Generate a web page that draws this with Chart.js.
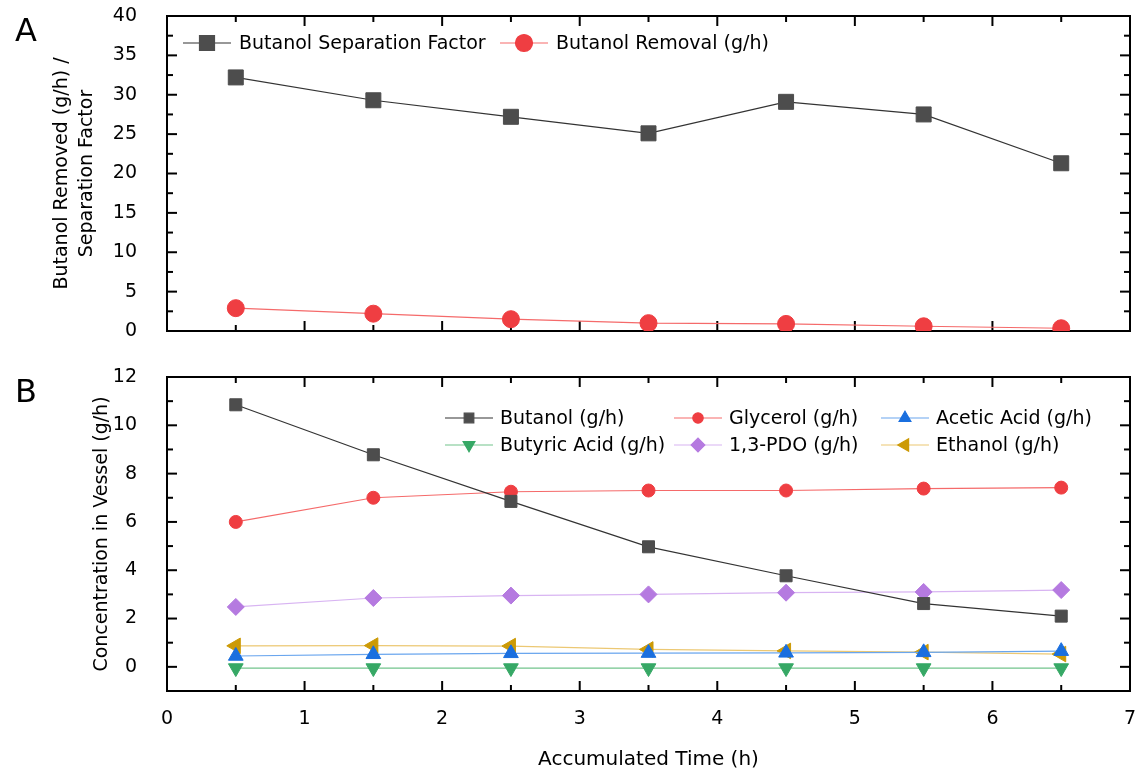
<!DOCTYPE html>
<html>
<head>
<meta charset="utf-8">
<script src="https://cdn.jsdelivr.net/npm/chart.js@4.4.1/dist/chart.umd.min.js"></script>
<style>
    body { margin: 0; background: #fff; }
    .wrap { position: relative; width: 1138px; height: 778px; }
    canvas { position: absolute; left: 0; top: 0; }
</style>
</head>
<body>
<div class="wrap">
    <canvas id="chartA" width="1138" height="778"></canvas>
    <canvas id="chartB" width="1138" height="778"></canvas>
</div>
<script>
// Data
const times = [0.5, 1.5, 2.5, 3.5, 4.5, 5.5, 6.5];
const sepFactor = [32.2, 29.3, 27.2, 25.1, 29.1, 27.5, 21.3];
const butanolRemoval = [2.9, 2.2, 1.5, 1.0, 0.9, 0.6, 0.35];

const butanol = [10.85, 8.78, 6.85, 4.97, 3.77, 2.62, 2.1];
const glycerol = [6.0, 7.0, 7.25, 7.3, 7.3, 7.38, 7.42];
const aceticAcid = [0.45, 0.52, 0.56, 0.57, 0.58, 0.6, 0.65];
const butyricAcid = [-0.05, -0.05, -0.05, -0.05, -0.05, -0.05, -0.05];
const pdo = [2.48, 2.85, 2.95, 3.0, 3.07, 3.1, 3.18];
const ethanol = [0.87, 0.88, 0.86, 0.72, 0.66, 0.61, 0.53];

const xTicks = [0, 1, 2, 3, 4, 5, 6, 7];
const yTicksA = [0, 5, 10, 15, 20, 25, 30, 35, 40];
const yTicksB = [0, 2, 4, 6, 8, 10, 12];

const FONT = 'DejaVu Sans';

function pts(values) {
    return values.map(function(v, i) { return { x: times[i], y: v }; });
}

function series(label, values, line, fill, style, radius, rotation) {
    return {
        label: label,
        data: pts(values),
        borderColor: line,
        borderWidth: 1.2,
        pointStyle: style,
        pointRadius: radius,
        pointHoverRadius: radius,
        pointRotation: rotation || 0,
        pointBackgroundColor: fill,
        pointBorderColor: fill,
        pointBorderWidth: 1,
        tension: 0
    };
}

function noPad(s) {
    s.paddingLeft = 0; s.paddingRight = 0; s.paddingTop = 0; s.paddingBottom = 0;
}

// Box with inward ticks on all four sides
const framePlugin = {
    id: 'frame',
    beforeDatasetsDraw(chart, args, opts) {
        const ctx = chart.ctx, a = chart.chartArea;
        const x = chart.scales.x, y = chart.scales.y;
        ctx.save();
        ctx.strokeStyle = '#000';
        ctx.lineWidth = 2;
        function seg(x1, y1, x2, y2) {
            ctx.beginPath(); ctx.moveTo(x1, y1); ctx.lineTo(x2, y2); ctx.stroke();
        }
        for (let v = 0; v <= 7; v += 0.5) {
            const len = v % 1 === 0 ? 10 : 6;
            const px = x.getPixelForValue(v);
            seg(px, a.bottom, px, a.bottom - len);
            seg(px, a.top, px, a.top + len);
        }
        for (let v = opts.min; v <= opts.max + 1e-9; v += opts.minor) {
            const len = opts.major.indexOf(v) >= 0 ? 10 : 6;
            const py = y.getPixelForValue(v);
            seg(a.left, py, a.left + len, py);
            seg(a.right, py, a.right - len, py);
        }
        ctx.strokeRect(a.left, a.top, a.right - a.left, a.bottom - a.top);
        ctx.restore();
    }
};

// Origin style legend inside the plot plus panel letter
const boxLegendPlugin = {
    id: 'boxLegend',
    afterDraw(chart, args, opts) {
        const ctx = chart.ctx;
        ctx.save();
        ctx.font = '32px "' + FONT + '"';
        ctx.fillStyle = '#000';
        ctx.textBaseline = 'middle';
        ctx.textAlign = 'center';
        ctx.fillText(opts.letter[0], opts.letter[1], opts.letter[2]);
        ctx.font = '19px "' + FONT + '"';
        ctx.textAlign = 'left';
        chart.data.datasets.forEach(function(ds, i) {
            const p = opts.items[i];
            ctx.strokeStyle = ds.borderColor;
            ctx.lineWidth = 1.2;
            ctx.beginPath();
            ctx.moveTo(p[0] - 24, p[1]);
            ctx.lineTo(p[0] + 24, p[1]);
            ctx.stroke();
            ctx.fillStyle = ds.pointBackgroundColor;
            ctx.strokeStyle = ds.pointBackgroundColor;
            Chart.helpers.drawPoint(ctx, {
                pointStyle: ds.pointStyle,
                radius: ds.pointRadius * opts.scale,
                rotation: ds.pointRotation,
                borderWidth: 1
            }, p[0], p[1]);
            ctx.fillStyle = '#000';
            ctx.fillText(ds.label, p[0] + opts.gap, p[1] + 1);
        });
        ctx.restore();
    }
};

function yTitle(text, pad) {
    return {
        display: true,
        text: text,
        color: '#000',
        font: { family: FONT, size: 19, lineHeight: 25 / 19 },
        padding: { top: pad, bottom: 0 }
    };
}

new Chart(document.getElementById('chartA'), {
    type: 'line',
    data: {
        datasets: [
            series('Butanol Separation Factor', sepFactor, '#333333', '#4d4d4d', 'rect', 10.6),
            series('Butanol Removal (g/h)', butanolRemoval, '#f56a6a', '#ef3e42', 'circle', 8.5)
        ]
    },
    options: {
        responsive: false,
        animation: false,
        layout: { autoPadding: false, padding: { left: 0, right: 8, top: 16, bottom: 447 } },
        scales: {
            x: {
                type: 'linear', min: 0, max: 7,
                grid: { display: false }, border: { display: false },
                ticks: { display: false },
                afterBuildTicks: function(s) { s.ticks = xTicks.map(function(v) { return { value: v }; }); },
                afterFit: function(s) { s.height = 0; noPad(s); }
            },
            y: {
                min: 0, max: 40,
                grid: { display: false }, border: { display: false },
                ticks: { color: '#000', padding: 22, font: { family: FONT, size: 19 } },
                afterBuildTicks: function(s) { s.ticks = yTicksA.map(function(v) { return { value: v }; }); },
                afterFit: function(s) { s.width = 167; noPad(s); },
                title: yTitle(['Butanol Removed (g/h) /', 'Separation Factor'], 49.5)
            }
        },
        plugins: {
            legend: { display: false },
            tooltip: { enabled: false },
            frame: { min: 0, max: 40, minor: 2.5, major: yTicksA },
            boxLegend: {
                letter: ['A', 26, 33],
                scale: 1,
                gap: 32,
                items: [[207, 43], [524, 43]]
            }
        }
    },
    plugins: [framePlugin, boxLegendPlugin]
});

new Chart(document.getElementById('chartB'), {
    type: 'line',
    data: {
        datasets: [
            series('Butanol (g/h)', butanol, '#333333', '#4d4d4d', 'rect', 8.5),
            series('Glycerol (g/h)', glycerol, '#f56a6a', '#ef3e42', 'circle', 6.5),
            series('Acetic Acid (g/h)', aceticAcid, '#6aa6ee', '#1a6fdf', 'triangle', 8.5),
            series('Butyric Acid (g/h)', butyricAcid, '#72c48c', '#36a865', 'triangle', 8.5, 180),
            series('1,3-PDO (g/h)', pdo, '#d8b4f2', '#b57ae0', 'rectRot', 8.5),
            series('Ethanol (g/h)', ethanol, '#ecc873', '#cc9a06', 'triangle', 9, 270)
        ]
    },
    options: {
        responsive: false,
        animation: false,
        layout: { autoPadding: false, padding: { left: 0, right: 8, top: 377, bottom: 0 } },
        scales: {
            x: {
                type: 'linear', min: 0, max: 7,
                grid: { display: false, drawTicks: false }, border: { display: false },
                ticks: { color: '#000', padding: 17, maxRotation: 0, font: { family: FONT, size: 19 } },
                afterBuildTicks: function(s) { s.ticks = xTicks.map(function(v) { return { value: v }; }); },
                afterFit: function(s) { s.height = 87; noPad(s); },
                title: {
                    display: true,
                    text: 'Accumulated Time (h)',
                    color: '#000',
                    font: { family: FONT, size: 20 },
                    padding: { top: 0, bottom: 6 }
                }
            },
            y: {
                min: -1, max: 12,
                grid: { display: false }, border: { display: false },
                ticks: { color: '#000', padding: 22, font: { family: FONT, size: 19 } },
                afterBuildTicks: function(s) { s.ticks = yTicksB.map(function(v) { return { value: v }; }); },
                afterFit: function(s) { s.width = 167; noPad(s); },
                title: yTitle('Concentration in Vessel (g/h)', 89.5)
            }
        },
        plugins: {
            legend: { display: false },
            tooltip: { enabled: false },
            frame: { min: -1, max: 12, minor: 1, major: yTicksB },
            boxLegend: {
                letter: ['B', 26, 394],
                scale: 0.8,
                gap: 31,
                items: [[469, 418], [698, 418], [905, 418], [469, 445], [698, 445], [905, 445]]
            }
        }
    },
    plugins: [framePlugin, boxLegendPlugin]
});
</script>
</body>
</html>
